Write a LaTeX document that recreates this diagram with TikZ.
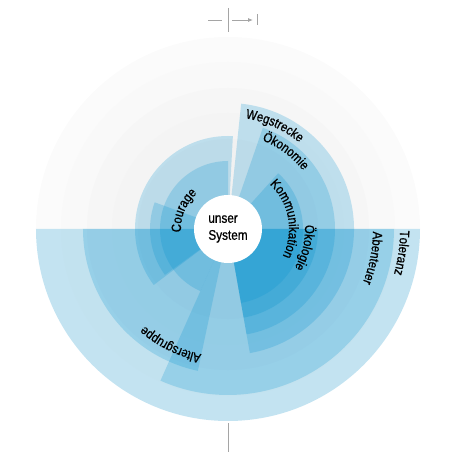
\documentclass[tikz,border=0pt]{standalone}
\usepackage{fontspec}
\setmainfont{Liberation Sans}[FakeStretch=0.84, FakeBold=0.8]
\usetikzlibrary{decorations.text,arrows.meta}

\definecolor{segblue}{RGB}{0,145,208}
\definecolor{markgray}{RGB}{165,165,165}

\newcommand{\wedgeseg}[3]{%
  \fill[seg] (0,0) -- (#1:#3) arc[start angle=#1, end angle=#2, radius=#3] -- cycle;}
\newcommand{\arclabel}[3]{%
  \path[decorate, decoration={text along path, text align=left,
        text={|\labelfont|#3}}]
    (#1:#2) arc[start angle=#1, end angle=#1-200, radius=#2];}
\newcommand{\labelfont}{\fontsize{13.5}{15}\selectfont}

\begin{document}
\begin{tikzpicture}[x=1pt, y=1pt,
    seg/.style={fill=segblue, fill opacity=0.22},
    tick/.style={draw=markgray, line width=0.8pt}]
  \useasboundingbox (-228,-231) rectangle (232,229);

  % background rings
  \fill[gray!3] (0,0) circle (192);
  \fill[gray!5] (0,0) circle (167);
  \fill[gray!7] (0,0) circle (141);
  \fill[gray!9] (0,0) circle (116);
  \fill[gray!11] (0,0) circle (90);

  % segments
  \wedgeseg{180}{360}{192}  % Toleranz
  \wedgeseg{246}{360}{166}  % Abenteuer
  \wedgeseg{180}{258}{145}  % Altersgruppe
  \wedgeseg{280}{444}{126}  % Wegstrecke
  \wedgeseg{280}{431}{107}  % Oekonomie
  \wedgeseg{280}{360}{90}   % Oekologie
  \wedgeseg{280}{408}{75}   % Kommunikation
  \wedgeseg{87}{217}{93}
  \wedgeseg{90}{246}{68}
  \wedgeseg{160}{216}{78}   % Courage

  % centre
  \fill[white] (0,0) circle (34);
  \node[align=left, font=\fontsize{14}{17}\selectfont] (sys) at (0,0) {unser\\System};

  % labels
  \arclabel{81}{112}{Wegstrecke}
  \arclabel{69}{95}{Ökonomie}
  \arclabel{47}{61}{Kommunikation}
  \arclabel{3}{77}{Ökologie}
  \arclabel{-1}{145}{Abenteuer}
  \arclabel{-0.5}{172}{Toleranz}
  \arclabel{258}{128}{Altersgruppe}
  \arclabel{184}{47}{Courage}

  % markers
  \coordinate (top1) at (0,221);
  \coordinate (top2) at (0,197);
  \coordinate (dl1) at (-20,209);
  \coordinate (dl2) at (-6,209);
  \coordinate (ar1) at (4,209);
  \coordinate (ar2) at (25,209);
  \coordinate (tk1) at (29,215);
  \coordinate (tk2) at (29,204);
  \coordinate (bot1) at (0,-194);
  \coordinate (bot2) at (0,-223);
  \draw[tick] (top1) -- (top2);
  \draw[tick] (dl1) -- (dl2);
  \draw[tick, -{Latex[length=5pt,width=4pt]}] (ar1) -- (ar2);
  \draw[tick] (tk1) -- (tk2);
  \draw[tick] (bot1) -- (bot2);
\end{tikzpicture}
\end{document}
